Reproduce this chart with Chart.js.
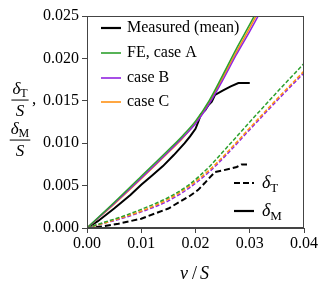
<!DOCTYPE html>
<html>
<head>
<meta charset="utf-8">
<script src="https://cdn.jsdelivr.net/npm/chart.js@4.4.0/dist/chart.umd.min.js"></script>
<style>
  html, body { margin: 0; padding: 0; background: #fff; }
  #wrap { width: 329px; height: 293px; }
</style>
</head>
<body>
<div id="wrap"><canvas id="c" width="329" height="293"></canvas></div>
<script>
// datos (v/S -> delta/S)
const measX = [0, 0.002, 0.005, 0.008, 0.010, 0.012, 0.014, 0.016, 0.018, 0.019, 0.020, 0.0205, 0.021, 0.0218, 0.0224, 0.023, 0.0236, 0.025, 0.0265, 0.0279, 0.030];
const measM = [0, 0.0008, 0.0023, 0.0039, 0.0051, 0.0062, 0.0073, 0.0086, 0.0100, 0.0108, 0.0117, 0.0125, 0.0134, 0.0139, 0.0145, 0.0149, 0.0157, 0.0162, 0.0167, 0.0171, 0.0171];
const measTx = [0, 0.003, 0.0058, 0.010, 0.015, 0.019, 0.0205, 0.0217, 0.0227, 0.0236, 0.0251, 0.0276, 0.0285, 0.030];
const measT = [0, 0.0002, 0.0005, 0.0011, 0.0023, 0.0038, 0.0045, 0.0053, 0.0060, 0.0066, 0.0068, 0.0072, 0.0075, 0.0075];

const feX = [0, 0.005, 0.010, 0.015, 0.0175, 0.020, 0.0225, 0.025, 0.0275, 0.030, 0.0325];
const caseA_M = [0, 0.0030, 0.0061, 0.0092, 0.0108, 0.0126, 0.0150, 0.0180, 0.0211, 0.0240, 0.0270];
const caseB_M = [0, 0.0029, 0.0059, 0.0090, 0.0106, 0.0123, 0.0146, 0.0174, 0.0204, 0.0232, 0.0261];
const caseC_M = [0, 0.0028, 0.0058, 0.0089, 0.0105, 0.0124, 0.0148, 0.0177, 0.0207, 0.0236, 0.0266];

const feTx = [0, 0.0033, 0.0058, 0.010, 0.015, 0.019, 0.0225, 0.0255, 0.030, 0.035, 0.040];
const caseA_T = [0, 0.0007, 0.0012, 0.0022, 0.0036, 0.0052, 0.0072, 0.0093, 0.0125, 0.0160, 0.0194];
const caseB_T = [0, 0.0006, 0.0010, 0.0019, 0.0032, 0.0048, 0.0066, 0.0085, 0.0116, 0.0150, 0.0183];
const caseC_T = [0, 0.0006, 0.0011, 0.0020, 0.0034, 0.0050, 0.0068, 0.0087, 0.0118, 0.0152, 0.0185];

const xTicks = [0, 0.01, 0.02, 0.03, 0.04];
const yTicks = [0, 0.005, 0.010, 0.015, 0.020, 0.025];

const legendNames = ['Measured (mean)', 'FE, case A', 'case B', 'case C'];
const colores = ['#000000', '#2ca02c', '#9124e0', '#ff9214'];

const FONT = '"Liberation Serif", "DejaVu Serif", serif';

function pts(xs, ys) {
    return xs.map((x, i) => ({ x: x, y: ys[i] }));
}

function serie(data, color, width, dash, mono) {
    return {
        data: data,
        borderColor: color,
        borderWidth: width,
        borderDash: dash,
        pointRadius: 0,
        fill: false,
        cubicInterpolationMode: mono ? 'monotone' : 'default',
        tension: 0
    };
}

// delta italica con subindice romano
function drawDelta(ctx, x, y, sub, size) {
    ctx.save();
    ctx.textBaseline = 'alphabetic';
    ctx.textAlign = 'left';
    ctx.font = 'italic ' + size + 'px ' + FONT;
    ctx.fillText('δ', x, y);
    const w = ctx.measureText('δ').width;
    ctx.font = Math.round(size * 0.72) + 'px ' + FONT;
    ctx.fillText(sub, x + w, y + size * 0.22);
    const w2 = ctx.measureText(sub).width;
    ctx.restore();
    return w + w2;
}

function drawFrac(ctx, cx, ytop, sub, size) {
    ctx.save();
    ctx.fillStyle = '#000';
    ctx.font = 'italic ' + size + 'px ' + FONT;
    const wd = ctx.measureText('δ').width;
    ctx.font = Math.round(size * 0.72) + 'px ' + FONT;
    const ws = ctx.measureText(sub).width;
    const wt = wd + ws;
    drawDelta(ctx, cx - wt / 2, ytop + size * 0.8, sub, size);
    const barY = ytop + size * 1.15;
    ctx.fillRect(cx - wt / 2 - 1, barY, wt + 2, 1);
    ctx.font = 'italic ' + size + 'px ' + FONT;
    ctx.textAlign = 'center';
    ctx.textBaseline = 'alphabetic';
    ctx.fillText('S', cx, barY + size * 0.95);
    ctx.restore();
}

const decor = {
    id: 'decor',
    afterDatasetsDraw(chart) {
        const ctx = chart.ctx;
        const a = chart.chartArea;
        ctx.save();
        // marco
        ctx.strokeStyle = '#444';
        ctx.lineWidth = 1;
        ctx.strokeRect(a.left + 0.5, a.top + 0.5, a.right - a.left - 1, a.bottom - a.top - 1);

        // leyenda de casos
        ctx.font = '16px ' + FONT;
        ctx.textBaseline = 'middle';
        ctx.textAlign = 'left';
        const ys = [28, 53, 78, 102];
        legendNames.forEach((name, i) => {
            ctx.strokeStyle = colores[i];
            ctx.lineWidth = i === 0 ? 2.2 : 1.6;
            ctx.setLineDash([]);
            ctx.beginPath();
            ctx.moveTo(101, ys[i]);
            ctx.lineTo(121, ys[i]);
            ctx.stroke();
            ctx.fillStyle = '#000';
            ctx.fillText(name, 127, ys[i]);
        });

        // leyenda de estilos
        ctx.strokeStyle = '#000';
        ctx.lineWidth = 2.2;
        ctx.setLineDash([6, 3]);
        ctx.beginPath();
        ctx.moveTo(234, 183);
        ctx.lineTo(254, 183);
        ctx.stroke();
        ctx.setLineDash([]);
        ctx.beginPath();
        ctx.moveTo(234, 211);
        ctx.lineTo(254, 211);
        ctx.stroke();
        ctx.fillStyle = '#000';
        drawDelta(ctx, 262, 188, 'T', 18);
        drawDelta(ctx, 262, 216, 'M', 18);

        // titulo eje y
        drawFrac(ctx, 20, 80, 'T', 17);
        ctx.font = '17px ' + FONT;
        ctx.textBaseline = 'alphabetic';
        ctx.fillText(',', 32, 104);
        drawFrac(ctx, 20, 120, 'M', 17);

        // titulo eje x
        ctx.font = 'italic 18px ' + FONT;
        ctx.textBaseline = 'alphabetic';
        ctx.textAlign = 'left';
        ctx.fillText('v', 180, 279);
        ctx.font = '18px ' + FONT;
        ctx.fillText('/', 192, 279);
        ctx.font = 'italic 18px ' + FONT;
        ctx.fillText('S', 200, 279);
        ctx.restore();
    }
};

const ctx = document.getElementById('c').getContext('2d');
new Chart(ctx, {
    type: 'line',
    data: {
        datasets: [
            serie(pts(feTx, caseA_T), colores[1], 1.5, [4, 2], true),
            serie(pts(feTx, caseC_T), colores[3], 1.5, [4, 2], true),
            serie(pts(feTx, caseB_T), colores[2], 1.5, [4, 2], true),
            serie(pts(measTx, measT), colores[0], 2, [6, 3], false),
            serie(pts(feX, caseA_M), colores[1], 1.5, [], true),
            serie(pts(feX, caseB_M), colores[2], 1.5, [], true),
            serie(pts(feX, caseC_M), colores[3], 1.5, [], true),
            serie(pts(measX, measM), colores[0], 2, [], false)
        ]
    },
    options: {
        responsive: false,
        animation: false,
        events: [],
        layout: { padding: { left: 0, right: 25, top: 16, bottom: 0 } },
        plugins: { legend: { display: false }, tooltip: { enabled: false } },
        scales: {
            x: {
                type: 'linear',
                min: 0,
                max: 0.04,
                afterFit: s => { s.height = 65; },
                afterBuildTicks: s => { s.ticks = xTicks.map(v => ({ value: v })); },
                ticks: {
                    color: '#000',
                    font: { family: FONT, size: 16 },
                    padding: 1,
                    maxRotation: 0,
                    callback: v => v.toFixed(2)
                },
                grid: { drawOnChartArea: false, tickLength: 5, color: '#444' },
                border: { color: '#444' }
            },
            y: {
                type: 'linear',
                min: 0,
                max: 0.025,
                afterFit: s => { s.width = 87; },
                afterBuildTicks: s => { s.ticks = yTicks.map(v => ({ value: v })); },
                ticks: {
                    color: '#000',
                    font: { family: FONT, size: 16 },
                    padding: 3,
                    callback: v => v.toFixed(3)
                },
                grid: { drawOnChartArea: false, tickLength: 5, color: '#444' },
                border: { color: '#444' }
            }
        }
    },
    plugins: [decor]
});
</script>
</body>
</html>
